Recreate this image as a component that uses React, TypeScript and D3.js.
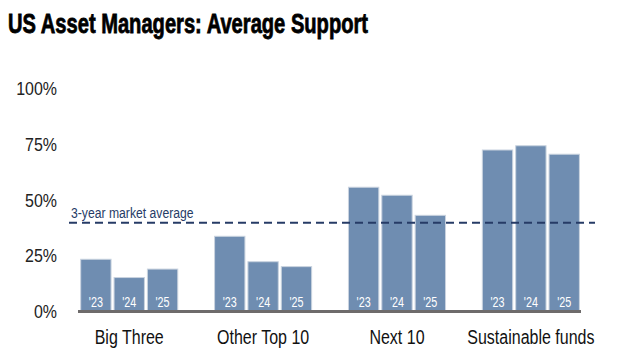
import * as d3 from "d3";
import { useEffect, useRef } from "react";

const categories = ["Big Three", "Other Top 10", "Next 10", "Sustainable funds"];
const years = ["'23", "'24", "'25"];
const support = [
  [23.2, 15.0, 18.8],
  [33.5, 22.1, 19.9],
  [55.5, 51.9, 42.9],
  [72.2, 74.1, 70.3],
];
const marketAverage = 39.6;
const yTicks = [0, 25, 50, 75, 100];

const FONT = "'Liberation Sans', Arial, sans-serif";

// squeeze text horizontally to mimic a condensed face
const condense = (sel: any, factor: number) => {
  sel.each(function (this: SVGTextElement) {
    const w = this.getComputedTextLength();
    d3.select(this).attr("textLength", w * factor).attr("lengthAdjust", "spacingAndGlyphs");
  });
};

export default function App() {
  const ref = useRef<SVGSVGElement>(null);
  const svgWidth = 618,
    svgHeight = 364;

  useEffect(() => {
    const svg = d3.select(ref.current);
    svg.selectAll("*").remove();

    const x0 = d3.scaleBand().domain(categories).range([80.7, 579.4]).paddingInner(0.275).paddingOuter(0);
    const x1 = d3.scaleBand().domain(years).range([0, x0.bandwidth()]).paddingInner(0.09);
    const y = d3.scaleLinear().domain([0, 100]).range([311, 88]);

    svg
      .append("text")
      .attr("x", 8)
      .attr("y", 33)
      .attr("font-family", FONT)
      .attr("font-weight", "bold")
      .attr("font-size", 28)
      .attr("fill", "#000")
      .attr("stroke", "#000")
      .attr("stroke-width", 0.8)
      .attr("textLength", 360)
      .attr("lengthAdjust", "spacingAndGlyphs")
      .text("US Asset Managers: Average Support");

    svg
      .append("g")
      .selectAll("text")
      .data(yTicks)
      .join("text")
      .attr("x", 57)
      .attr("y", (d) => y(d) + 7)
      .attr("text-anchor", "end")
      .attr("font-family", FONT)
      .attr("font-size", 19)
      .attr("fill", "#222")
      .text((d) => d + "%")
      .call(condense, 0.84);

    const groups = svg
      .append("g")
      .selectAll("g")
      .data(categories)
      .join("g")
      .attr("transform", (c) => `translate(${x0(c)},0)`);

    groups
      .selectAll("rect")
      .data((c, i) => years.map((yr, j) => ({ yr, v: support[i][j] })))
      .join("rect")
      .attr("x", (d) => x1(d.yr)!)
      .attr("y", (d) => y(d.v))
      .attr("width", x1.bandwidth())
      .attr("height", (d) => y(0) - y(d.v))
      .attr("fill", "#6f8db1")
      .attr("stroke", "#c9d3df")
      .attr("stroke-width", 1);

    groups
      .selectAll("text.yr")
      .data(years)
      .join("text")
      .attr("class", "yr")
      .attr("x", (d) => x1(d)! + x1.bandwidth() / 2)
      .attr("y", 306.5)
      .attr("text-anchor", "middle")
      .attr("font-family", FONT)
      .attr("font-size", 15)
      .attr("fill", "#fff")
      .text((d) => d)
      .call(condense, 0.72);

    groups
      .append("text")
      .attr("x", x0.bandwidth() / 2)
      .attr("y", 344)
      .attr("text-anchor", "middle")
      .attr("font-family", FONT)
      .attr("font-size", 20)
      .attr("fill", "#111")
      .text((c) => c)
      .call(condense, 0.8);

    svg
      .append("line")
      .attr("x1", 78)
      .attr("x2", 581)
      .attr("y1", 311.5)
      .attr("y2", 311.5)
      .attr("stroke", "#6e6b6b")
      .attr("stroke-width", 3);

    svg
      .append("line")
      .attr("x1", 69)
      .attr("x2", 595)
      .attr("y1", y(marketAverage))
      .attr("y2", y(marketAverage))
      .attr("stroke", "#263b66")
      .attr("stroke-width", 2)
      .attr("stroke-dasharray", "8,5");

    svg
      .append("text")
      .attr("x", 71)
      .attr("y", 218)
      .attr("font-family", FONT)
      .attr("font-size", 14)
      .attr("fill", "#263b66")
      .text("3-year market average")
      .call(condense, 0.87);
  }, []);

  return (
    <svg
      ref={ref}
      width={svgWidth}
      height={svgHeight}
      style={{ position: "absolute", left: 0, top: 0, background: "#fff" }}
    />
  );
}
